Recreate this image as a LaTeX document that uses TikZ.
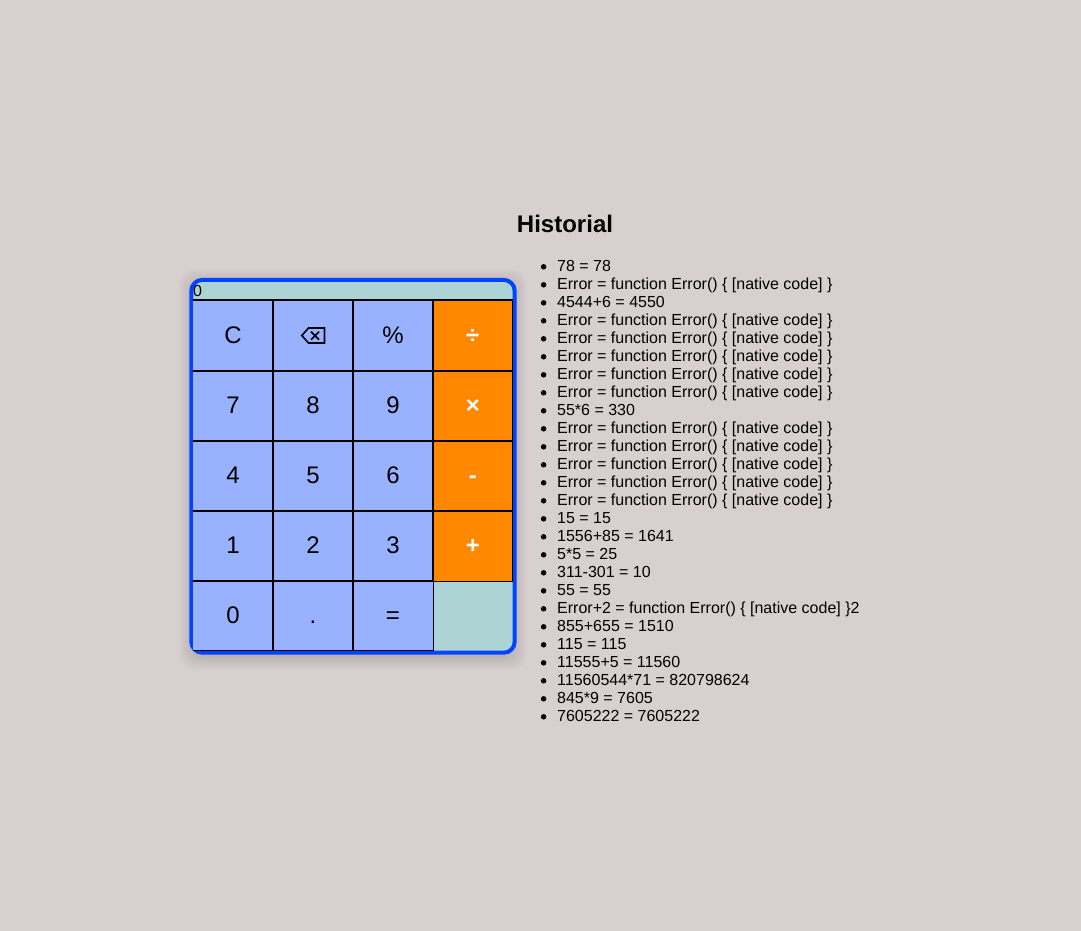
\documentclass[tikz,border=0pt]{standalone}
\usepackage{fontspec}
\setmainfont{Liberation Sans}
\begin{document}
\begin{tikzpicture}[x=1pt,y=-1pt,
  btn/.style={fill=keyblue,minimum width=80pt,minimum height=70pt,inner sep=0pt,text height=15pt,text depth=0pt,font=\fontsize{24}{24}\selectfont,text=black},
  toprow/.style={minimum height=71pt},
  lastrow/.style={minimum height=69.6pt},
  opkey/.style={btn,fill=keyorange,text=white,font=\fontsize{24}{24}\selectfont\bfseries},
  inner line/.style={draw=black,line width=1.7pt},
  outer line/.style={draw=black,line width=1pt},
  hist/.style={anchor=base west,inner sep=0pt,font=\fontsize{16}{18}\selectfont},
  dot/.style={circle,fill=black,inner sep=0pt,minimum size=5.5pt}]
\definecolor{bgc}{HTML}{D8CFD0}
\definecolor{keyblue}{HTML}{99B2FF}
\definecolor{keyorange}{HTML}{FF8800}
\definecolor{teal}{HTML}{ADD4D4}
\definecolor{frame}{HTML}{0044FF}
\path[fill=bgc] (0,0) rectangle (1081,931);
\useasboundingbox (0,0) rectangle (1081,931);
% soft shadow
\foreach \g in {1,...,14}
  \path[fill=black,opacity=0.007,rounded corners=14pt] (193-\g,283-\g) rectangle (513+\g,656+\g);
\node[draw=frame,line width=4pt,fill=teal,rounded corners=11pt,minimum width=323.4pt,minimum height=372.8pt,inner sep=0pt] (calc) at (353,466.3) {};
\node[anchor=base west,inner sep=0pt,font=\fontsize{16}{16}\selectfont] (disp) at (193,296) {0};
\foreach \n/\t/\c in {c/C/233,pct/\%/393}
  \node[btn,toprow] (\n) at (\c,335.5) {\t};
\node[btn,toprow] (back) at (313,335.5) {};
\foreach \n/\t/\c/\r in {k7/7/233/406,k8/8/313/406,k9/9/393/406,
  k4/4/233/476,k5/5/313/476,k6/6/393/476,
  k1/1/233/546,k2/2/313/546,k3/3/393/546}
  \node[btn] (\n) at (\c,\r) {\t};
\foreach \n/\t/\c in {k0/0/233,dotk/./313,eq/=/393}
  \node[btn,lastrow] (\n) at (\c,615.8) {\t};
\node[opkey,toprow,minimum width=79.6pt] (div) at (472.8,335.5) {÷};
\foreach \n/\t/\r in {mul/×/406,sub/-/476,add/+/546}
  \node[opkey,minimum width=79.6pt] (\n) at (472.8,\r) {\t};
% grid lines
\draw[inner line] (c.north east) -- (k0.south east);
\draw[inner line] (back.north east) -- (dotk.south east);
\draw[inner line] (pct.north east) -- (k3.south east);
\draw[outer line] (k3.south east) -- (eq.south east);
\draw[outer line] ([xshift=-0.5pt]div.north east) -- ([xshift=-0.5pt]add.south east);
\draw[inner line] (c.north west) -- (div.north east);
\draw[inner line] (c.south west) -- (div.south east);
\draw[inner line] (k7.south west) -- (mul.south east);
\draw[inner line] (k4.south west) -- (sub.south east);
\draw[inner line] (k1.south west) -- (k3.south east);
\draw[outer line] (k3.south east) -- (add.south east);
\draw[outer line] (k0.south west) -- (eq.south east);
% backspace icon
\draw[line width=1.6pt,line join=miter] (back.center) ++(-11.2,0) -- ++(6.7,-7.5) -- ++(16,0) -- ++(0,15) -- ++(-16,0) -- cycle;
\draw[line width=1.7pt] (back.center) ++(-2,-3.8) -- ++(8,8) ++(0,-8) -- ++(-8,8);
\node[anchor=base,inner sep=0pt,font=\fontsize{24}{24}\selectfont\bfseries] (title) at (565,232) {Historial};
\foreach \i/\t in {0/78 = 78,1/Error = function Error() \{ [native code] \},2/4544+6 = 4550,
  3/Error = function Error() \{ [native code] \},4/Error = function Error() \{ [native code] \},
  5/Error = function Error() \{ [native code] \},6/Error = function Error() \{ [native code] \},
  7/Error = function Error() \{ [native code] \},8/55*6 = 330,
  9/Error = function Error() \{ [native code] \},10/Error = function Error() \{ [native code] \},
  11/Error = function Error() \{ [native code] \},12/Error = function Error() \{ [native code] \},
  13/Error = function Error() \{ [native code] \},14/15 = 15,15/1556+85 = 1641,16/5*5 = 25,
  17/311-301 = 10,18/55 = 55,19/Error+2 = function Error() \{ [native code] \}2,
  20/855+655 = 1510,21/115 = 115,22/11555+5 = 11560,23/11560544*71 = 820798624,
  24/845*9 = 7605,25/7605222 = 7605222}
{
  \node[hist] (h\i) at (557,271.7+18*\i) {\t};
  \node[dot] (b\i) at (543.6,266.8+18*\i) {};
}
\end{tikzpicture}
\end{document}
